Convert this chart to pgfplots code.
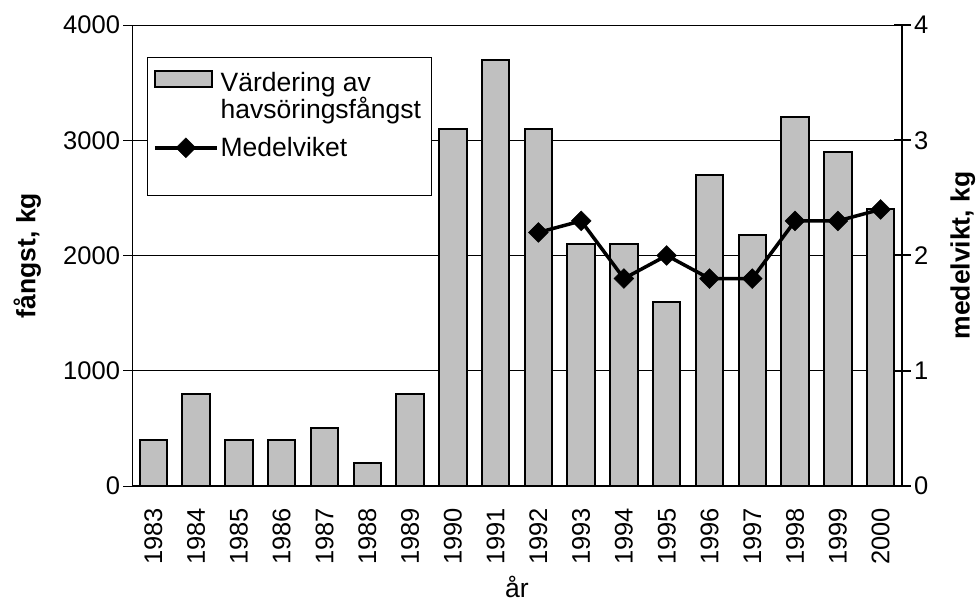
\documentclass[border=0pt]{standalone}
\usepackage{fontspec}
\setmainfont{Liberation Sans}
\usepackage{pgfplots}
\pgfplotsset{compat=1.18}
\definecolor{barfill}{RGB}{192,192,192}
\pgfplotsset{
  widelinelegend/.style={legend image code/.code={%
    \draw[mark repeat=2, mark phase=2, ##1] plot coordinates {(0pt,0pt) (31pt,0pt) (62pt,0pt)};}},
  widebarlegend/.style={legend image code/.code={%
    \draw[fill=barfill, draw=black, line width=2pt] (0pt,9.5pt) rectangle (57pt,25.5pt);}},
}

\begin{document}
\begin{tikzpicture}
\useasboundingbox (-132pt,-115pt) rectangle (846pt,486pt);
% bars, left axis
\begin{axis}[
  at={(0pt,0pt)}, anchor=south west,
  scale only axis, width=770pt, height=461pt,
  xmin=-0.5, xmax=17.5, ymin=0, ymax=4000,
  axis x line*=bottom, axis y line*=left,
  x axis line style={line width=2pt,-},
  y axis line style={line width=0.8pt,-},
  xtick={0,...,17},
  xticklabels={1983,1984,1985,1986,1987,1988,1989,1990,1991,1992,1993,1994,1995,1996,1997,1998,1999,2000},
  x tick label style={rotate=90, anchor=east, xshift=-10pt},
  xtick style={draw=none},
  ytick={0,1000,2000,3000,4000},
  ymajorgrids, grid style={black, line width=0.8pt},
  tick align=center, major tick length=17pt,
  ytick style={black, line width=0.8pt},
  scaled y ticks=false,
  /pgf/number format/1000 sep={},
  /pgf/number format/assume math mode=true,
  tick label style={font=\fontsize{25.5}{30}\selectfont},
  label style={font=\bfseries\fontsize{26.5}{30}\selectfont},
  ylabel={fångst, kg},
  ylabel style={at={(axis description cs:-0.136,0.5)}, anchor=center},
  xlabel={år},
  xlabel style={at={(axis description cs:0.5,-0.218)}, anchor=center, font=\fontsize{26.5}{30}\selectfont},
]
\addplot[ybar, bar width=27.4pt, fill=barfill, draw=black, line width=2pt] coordinates {
  (0,400) (1,800) (2,400) (3,400) (4,500) (5,200) (6,800) (7,3100) (8,3700)
  (9,3100) (10,2100) (11,2100) (12,1600) (13,2700) (14,2180) (15,3200) (16,2900) (17,2400)
};
\end{axis}
% line, right axis
\begin{axis}[
  at={(0pt,0pt)}, anchor=south west,
  scale only axis, width=770pt, height=461pt,
  xmin=-0.5, xmax=17.5, ymin=0, ymax=4,
  axis x line=none, axis y line*=right,
  y axis line style={line width=2pt,-},
  xtick=\empty,
  ytick={0,1,2,3,4},
  tick align=center, major tick length=17pt,
  ytick style={black, line width=2pt},
  /pgf/number format/assume math mode=true,
  tick label style={font=\fontsize{25.5}{30}\selectfont},
  label style={font=\bfseries\fontsize{26.5}{30}\selectfont},
  ylabel={medelvikt, kg},
  ylabel style={at={(axis description cs:1.079,0.5)}, anchor=center},
  legend style={at={(axis description cs:0.0191,0.9312)}, anchor=north west,
    draw=black, line width=0.8pt, fill=white,
    font=\fontsize{26.5}{27}\selectfont,
    cells={align=left, anchor=west}, inner xsep=6pt, inner ysep=13pt,
    row sep=13pt},
  legend cell align=left,
]
\addlegendimage{widebarlegend}
\addlegendentry{Värdering av\\havsöringsfångst\hspace*{2pt}}
\addplot[black, line width=3.5pt, mark=square*, mark size=7pt,
  mark options={rotate=45, line width=0.5pt}, widelinelegend]
  coordinates {
  (9,2.2) (10,2.3) (11,1.8) (12,2.0) (13,1.8) (14,1.8) (15,2.3) (16,2.3) (17,2.4)
};
\addlegendentry{Medelviket}
\addlegendimage{empty legend}
\addlegendentry{\rule{0pt}{4pt}}
\end{axis}
\end{tikzpicture}
\end{document}
